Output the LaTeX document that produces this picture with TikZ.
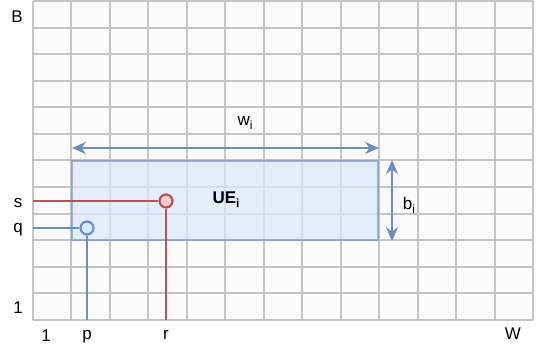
\documentclass[tikz,border=0pt]{standalone}
\usepackage{fontspec}
\setmainfont{Liberation Sans}
\usetikzlibrary{arrows.meta}
\definecolor{ueblue}{HTML}{6C8EBF}
\definecolor{uefill}{HTML}{DAE8FC}
\definecolor{ured}{HTML}{B85450}
\definecolor{uredfill}{HTML}{F8CECC}
\definecolor{gridgray}{HTML}{C4C4C4}
\definecolor{gridbg}{HTML}{FAFAFA}
\newcommand{\lowi}{\raisebox{-0.25em}{\fontsize{12}{12}\selectfont i}}
\tikzset{
  lbl/.style={inner sep=0pt, font=\fontsize{17}{20}\selectfont},
  gridline/.style={draw=gridgray, line width=2pt},
  uebox/.style={fill=uefill, fill opacity=0.7, draw=ueblue, draw opacity=0.6, line width=2pt},
  bluedot/.style={circle, draw=ueblue, fill=uefill, line width=2.2pt, minimum size=13pt, inner sep=0pt},
  reddot/.style={circle, draw=ured, fill=uredfill, line width=2.2pt, minimum size=13pt, inner sep=0pt},
  dim/.style={{Stealth[length=14pt, width=12pt]}-{Stealth[length=14pt, width=12pt]}, draw=ueblue, line width=2.2pt},
  bline/.style={draw=ueblue, line width=2.2pt},
  rline/.style={draw=ured, line width=2.2pt},
}

\begin{document}
\begin{tikzpicture}[x=1pt, y=-1pt]
    \useasboundingbox (0,0) rectangle (540,351);
    % grid of resource blocks
    \fill[gridbg] (33,1) rectangle (533,320);
    \foreach \i in {0,...,13}
      \draw[gridline] (33+\i*38.46,1) -- (33+\i*38.46,320);
    \foreach \j in {0,...,12}
      \draw[gridline] (33,1+\j*26.58) -- (533,1+\j*26.58);
    % allocated block
    \draw[uebox] (72,161) rectangle (378,240);
    \node[lbl, font=\fontsize{17}{20}\selectfont\bfseries] (ue) at (226,200) {UE\lowi};
    % width and height
    \coordinate (wl) at (72,148);
    \coordinate (wr) at (379,148);
    \draw[dim] (wl) -- (wr);
    \node[lbl] (wi) at (245,123) {w\lowi};
    \coordinate (bt) at (392,160);
    \coordinate (bb) at (392,241);
    \draw[dim] (bt) -- (bb);
    \node[lbl] (bi) at (409,205) {b\lowi};
    % start and end points
    \node[reddot] (rs) at (166,201) {};
    \node[bluedot] (pq) at (87,228) {};
    \coordinate (sl) at (33,201);
    \coordinate (ql) at (33,228);
    \coordinate (rb) at (166,320);
    \coordinate (pb) at (87,320);
    \draw[rline] (sl) -- (rs);
    \draw[rline] (rs) -- (rb);
    \draw[bline] (ql) -- (pq);
    \draw[bline] (pq) -- (pb);
    % axis labels
    \node[lbl] (B) at (17,17) {B};
    \node[lbl] (s) at (18,203) {s};
    \node[lbl] (q) at (18,230) {q};
    \node[lbl] (one y) at (18,308) {1};
    \node[lbl] (one x) at (46,336) {1};
    \node[lbl] (p) at (87,337) {p};
    \node[lbl] (r) at (166,335) {r};
    \node[lbl] (W) at (513,334) {W};
  \end{tikzpicture}
\end{document}
